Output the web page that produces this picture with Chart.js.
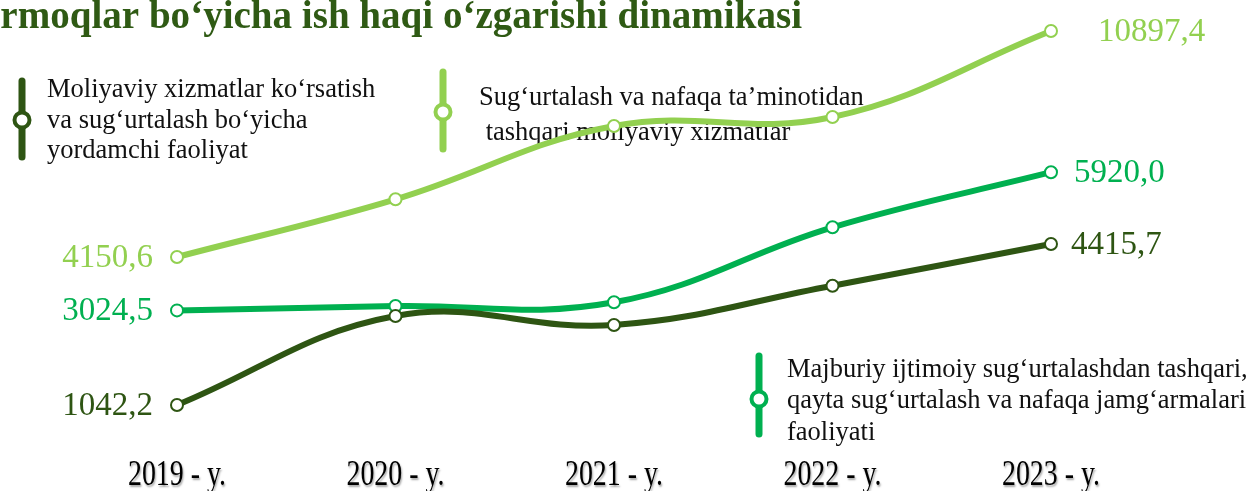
<!DOCTYPE html>
<html>
<head>
<meta charset="utf-8">
<script src="https://cdn.jsdelivr.net/npm/chart.js@4.4.0/dist/chart.umd.min.js"></script>
<style>
    html, body { margin: 0; padding: 0; background: #fff; }
    #wrap { width: 1252px; height: 491px; }
</style>
</head>
<body>
<div id="wrap"><canvas id="myChart" width="1252" height="491"></canvas></div>
<script>
// years on the x axis
var years = ['2019 - y.', '2020 - y.', '2021 - y.', '2022 - y.', '2023 - y.'];
// Moliyaviy xizmatlar ko'rsatish va sug'urtalash bo'yicha yordamchi faoliyat
var yordamchi = [1042.2, 2907, 2719, 3542, 4415.7];
// Majburiy ijtimoiy sug'urtalashdan tashqari ... faoliyati
var jamgarma = [3024.5, 3117, 3194, 4766, 5920.0];
// Sug'urtalash va nafaqa ta'minotidan tashqari moliyaviy xizmatlar
var moliyaviy = [4150.6, 5873, 8061, 8330, 10897.4];

var darkGreen = '#2e5513';
var midGreen = '#00b050';
var lightGreen = '#92d050';
var title = 'Tarmoqlar bo\u2018yicha ish haqi o\u2018zgarishi dinamikasi';

function fmt(v) {
    return v.toFixed(1).replace('.', ',');
}

// same look for every line
function lineStyle(ds) {
    ds.clip = false;
    ds.borderWidth = 6;
    ds.tension = 0.4;
    ds.pointRadius = 6;
    ds.pointHoverRadius = 6;
    ds.pointBorderWidth = 2;
    ds.pointBorderColor = ds.borderColor;
    ds.pointBackgroundColor = '#fff';
    return ds;
}

// legend boxes drawn by hand (vertical bar + ring + text)
var legendItems = [
    { color: darkGreen, x: 22, top: 81, bottom: 157, cy: 120, tx: 47,
      lines: [['Moliyaviy xizmatlar ko\u2018rsatish', 97], ['va sug\u2018urtalash bo\u2018yicha', 128], ['yordamchi faoliyat', 158]] },
    { color: lightGreen, x: 443, top: 72, bottom: 149, cy: 112, tx: 479,
      lines: [['Sug\u2018urtalash va nafaqa ta\u2019minotidan', 105], [' tashqari moliyaviy xizmatlar', 140]] },
    { color: midGreen, x: 759, top: 356, bottom: 434, cy: 399, tx: 787,
      lines: [['Majburiy ijtimoiy sug\u2018urtalashdan tashqari,', 377], ['qayta sug\u2018urtalash va nafaqa jamg\u2018armalari', 408], ['faoliyati', 440]] }
];

var extras = {
    id: 'extras',
    beforeDraw: function (chart) {
        var ctx = chart.ctx;
        // title, cut at the left edge like the original
        ctx.save();
        ctx.font = 'bold 32px "Liberation Serif"';
        var w = ctx.measureText(title.slice(2)).width;
        var size = 32 * 802 / w;
        ctx.font = 'bold ' + size + 'px "Liberation Serif"';
        ctx.fillStyle = '#2f5a14';
        ctx.textAlign = 'right';
        ctx.textBaseline = 'alphabetic';
        ctx.fillText(title, 802, 28);
        ctx.restore();

        // legend
        legendItems.forEach(function (it) {
            ctx.save();
            ctx.strokeStyle = it.color;
            ctx.lineWidth = 7;
            ctx.lineCap = 'round';
            ctx.beginPath();
            ctx.moveTo(it.x, it.top);
            ctx.lineTo(it.x, it.bottom);
            ctx.stroke();
            ctx.beginPath();
            ctx.arc(it.x, it.cy, 7.5, 0, Math.PI * 2);
            ctx.fillStyle = '#fff';
            ctx.fill();
            ctx.lineWidth = 4;
            ctx.stroke();
            ctx.font = '26.5px "Liberation Serif"';
            ctx.fillStyle = '#111';
            ctx.textAlign = 'left';
            it.lines.forEach(function (l) {
                ctx.fillText(l[0], it.tx, l[1]);
            });
            ctx.restore();
        });
    },
    afterDatasetsDraw: function (chart) {
        var ctx = chart.ctx;
        // value labels at both ends
        chart.data.datasets.forEach(function (ds, i) {
            var meta = chart.getDatasetMeta(i);
            var first = meta.data[0];
            var last = meta.data[meta.data.length - 1];
            ctx.save();
            ctx.font = '33px "Liberation Serif"';
            ctx.fillStyle = ds.borderColor;
            ctx.textBaseline = 'middle';
            ctx.textAlign = 'right';
            ctx.fillText(fmt(ds.data[0]), first.x - 24, first.y + 1);
            ctx.textAlign = 'left';
            ctx.fillText(fmt(ds.data[ds.data.length - 1]), last.x + ds.endGap, last.y + 1);
            ctx.restore();
        });

        // x labels, narrow with soft shadow
        var xs = chart.scales.x;
        ctx.save();
        ctx.font = '35px "Liberation Serif"';
        ctx.fillStyle = '#000';
        ctx.textBaseline = 'alphabetic';
        ctx.shadowColor = 'rgba(0,0,0,0.35)';
        ctx.shadowOffsetX = 1;
        ctx.shadowOffsetY = 2;
        ctx.shadowBlur = 2;
        years.forEach(function (t, i) {
            var w = ctx.measureText(t).width;
            var k = 98 / w;
            var cx = xs.getPixelForValue(i);
            ctx.save();
            ctx.translate(cx, 485);
            ctx.scale(k, 1);
            ctx.textAlign = 'center';
            ctx.fillText(t, 0, 0);
            ctx.restore();
        });
        ctx.restore();
    }
};

var ctx = document.getElementById('myChart').getContext('2d');
var myChart = new Chart(ctx, {
    type: 'line',
    data: {
        labels: years,
        datasets: [lineStyle({
            label: 'Moliyaviy xizmatlar ko\u2018rsatish va sug\u2018urtalash bo\u2018yicha yordamchi faoliyat',
            data: yordamchi,
            borderColor: darkGreen,
            yAxisID: 'y',
            endGap: 20
        }), lineStyle({
            label: 'Majburiy ijtimoiy sug\u2018urtalashdan tashqari, qayta sug\u2018urtalash va nafaqa jamg\u2018armalari faoliyati',
            data: jamgarma,
            borderColor: midGreen,
            yAxisID: 'y',
            endGap: 23
        }), lineStyle({
            label: 'Sug\u2018urtalash va nafaqa ta\u2019minotidan tashqari moliyaviy xizmatlar',
            data: moliyaviy,
            borderColor: lightGreen,
            yAxisID: 'y2',
            endGap: 47
        })]
    },
    options: {
        responsive: false,
        animation: false,
        layout: {
            padding: { left: 177, right: 201, top: 20, bottom: 51 }
        },
        plugins: {
            legend: { display: false },
            tooltip: { enabled: false }
        },
        scales: {
            x: { display: false },
            //main axis for two series
            y: { display: false, min: 308.9, max: 9109.3 },
            //second axis for the big series
            y2: { display: false, position: 'right', min: -1312.7, max: 11225.8 }
        }
    },
    plugins: [extras]
});
</script>
</body>
</html>
